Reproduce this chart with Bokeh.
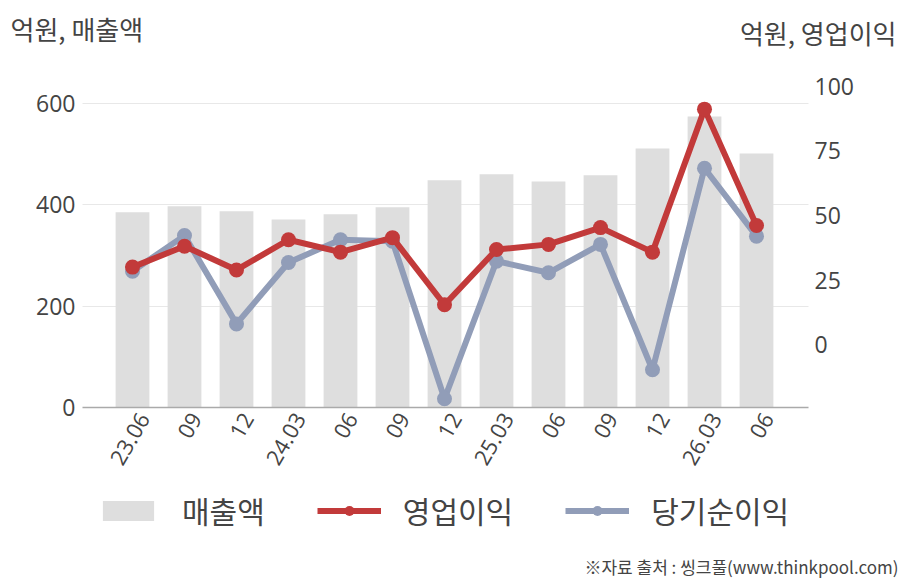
import math
from bokeh.plotting import figure
from bokeh.models import (Range1d, LinearAxis, FixedTicker, Legend, LegendItem, Label)
from bokeh.embed import file_html
from bokeh.resources import INLINE

# ---- data ----
quarters = ["23.06", "09", "12", "24.03", "06", "09", "12", "25.03", "06", "09", "12", "26.03", "06"]
sales = [385, 397, 387, 371, 381, 395, 448, 460, 446, 458, 511, 574, 501]          # 매출액 (억원)
op_profit = [30.0, 38.1, 28.9, 40.6, 35.8, 41.4, 15.4, 36.8, 38.8, 45.3, 35.8, 91.2, 46.1]   # 영업이익
net_profit = [28.4, 42.2, 8.0, 31.8, 40.6, 40.0, -21.0, 32.3, 27.8, 38.8, -9.8, 68.3, 42.0]  # 당기순이익
left_ticks = [0, 200, 400, 600]
right_ticks = [0, 25, 50, 75, 100]

xs = list(range(len(quarters)))

# ---- layout constants (pixels of the page) ----
W, H = 908, 580
BOX_L, BOX_R, BOX_T, BOX_B = 82, 808, 80, 407        # plotting box
X_LO, X_HI = -0.9615, 13.0                          # category span of the box
YL_LO, YL_HI = 0, 645                               # left value span of the box
YR_LO, YR_HI = -24.4, 102.3                         # right value span of the box


def extend(lo, hi, p_lo, p_hi, full_lo, full_hi):
    """map value span [lo,hi] on pixels [p_lo,p_hi] and extend to the full canvas"""
    k = (hi - lo) / (p_hi - p_lo)
    return lo + (full_lo - p_lo) * k, lo + (full_hi - p_lo) * k


xr = extend(X_LO, X_HI, BOX_L, BOX_R, 0, W)
ylr = extend(YL_LO, YL_HI, H - BOX_B, H - BOX_T, 0, H)
yrr = extend(YR_LO, YR_HI, H - BOX_B, H - BOX_T, 0, H)

KR = "Noto Sans CJK KR"
NUM = "Open Sans"
RED = "#c23a3a"
BLUE = "#919db8"
BAR = "#dedede"
TXT = "#444444"
LABEL_SHIFT = 0.22   # horizontal nudge of the rotated category labels

p = figure(width=W, height=H, output_backend="svg", toolbar_location=None,
           x_range=Range1d(*xr), y_range=Range1d(*ylr), min_border=0)
p.outline_line_color = None
p.background_fill_color = "white"
p.border_fill_color = "white"
p.extra_y_ranges = {"r": Range1d(*yrr)}

bars = p.vbar(x=xs, top=sales, width=0.65, color=BAR, line_color=None)
bl = p.line(xs, net_profit, y_range_name="r", line_color=BLUE, line_width=6)
bs = p.scatter(xs, net_profit, y_range_name="r", size=15, color=BLUE, line_color=None)
rl = p.line(xs, op_profit, y_range_name="r", line_color=RED, line_width=6)
rs = p.scatter(xs, op_profit, y_range_name="r", size=15, color=RED, line_color=None)


def plain(ax, size, standoff):
    ax.axis_line_color = None
    ax.major_tick_line_color = None
    ax.minor_tick_line_color = None
    ax.major_tick_in = 0
    ax.major_tick_out = 0
    ax.minor_tick_in = 0
    ax.minor_tick_out = 0
    ax.major_label_text_font = NUM
    ax.major_label_text_font_size = size
    ax.major_label_text_color = TXT
    ax.major_label_standoff = standoff


# x axis, drawn at value 0
tick_pos = [x + LABEL_SHIFT for x in xs]
xa = p.xaxis[0]
plain(xa, "22px", 7)
xa.fixed_location = 0
xa.bounds = (X_LO, X_HI)
xa.ticker = FixedTicker(ticks=tick_pos)
xa.major_label_overrides = {t: q for t, q in zip(tick_pos, quarters)}
xa.major_label_orientation = math.pi / 3
xa.axis_line_color = "#aaaaaa"
xa.axis_line_width = 1.5

# left axis
ya = p.yaxis[0]
plain(ya, "23px", 7)
ya.fixed_location = X_LO
ya.bounds = (YL_LO, YL_HI)
ya.ticker = FixedTicker(ticks=left_ticks)

p.xgrid.grid_line_color = None
p.ygrid.grid_line_color = "#e8e8e8"
p.ygrid.ticker = FixedTicker(ticks=[t for t in left_ticks if t > 0])
try:
    p.ygrid.cross_bounds = (X_LO, X_HI)
except Exception:
    pass

ra = LinearAxis(y_range_name="r", ticker=FixedTicker(ticks=right_ticks), fixed_location=X_HI,
                bounds=(YR_LO, YR_HI))
plain(ra, "23px", 6)
p.add_layout(ra, "right")

legend = Legend(items=[
    LegendItem(label="매출액", renderers=[bars]),
    LegendItem(label="영업이익", renderers=[rl, rs]),
    LegendItem(label="당기순이익", renderers=[bl, bs]),
], orientation="horizontal", location=(96, H - 532))
legend.label_text_font = KR
legend.label_text_font_size = "30px"
legend.label_text_color = TXT
legend.glyph_width = 64
legend.glyph_height = 25
legend.label_standoff = 22
legend.spacing = 52
legend.border_line_color = None
legend.background_fill_alpha = 0
legend.margin = 0
legend.padding = 6
p.add_layout(legend, "center")

# unit titles and source
p.add_layout(Label(x=10, y=H - 28, x_units="screen", y_units="screen", text="억원, 매출액",
                   text_font=KR, text_font_size="26px", text_color=TXT,
                   text_align="left", text_baseline="middle"))
p.add_layout(Label(x=896, y=H - 32, x_units="screen", y_units="screen", text="억원, 영업이익",
                   text_font=KR, text_font_size="26px", text_color=TXT,
                   text_align="right", text_baseline="middle"))
p.add_layout(Label(x=898, y=H - 566, x_units="screen", y_units="screen",
                   text="※자료 출처 : 씽크풀(www.thinkpool.com)",
                   text_font=KR, text_font_size="17px", text_color=TXT,
                   text_align="right", text_baseline="middle"))

open("out.html", "w").write(file_html(p, INLINE))
